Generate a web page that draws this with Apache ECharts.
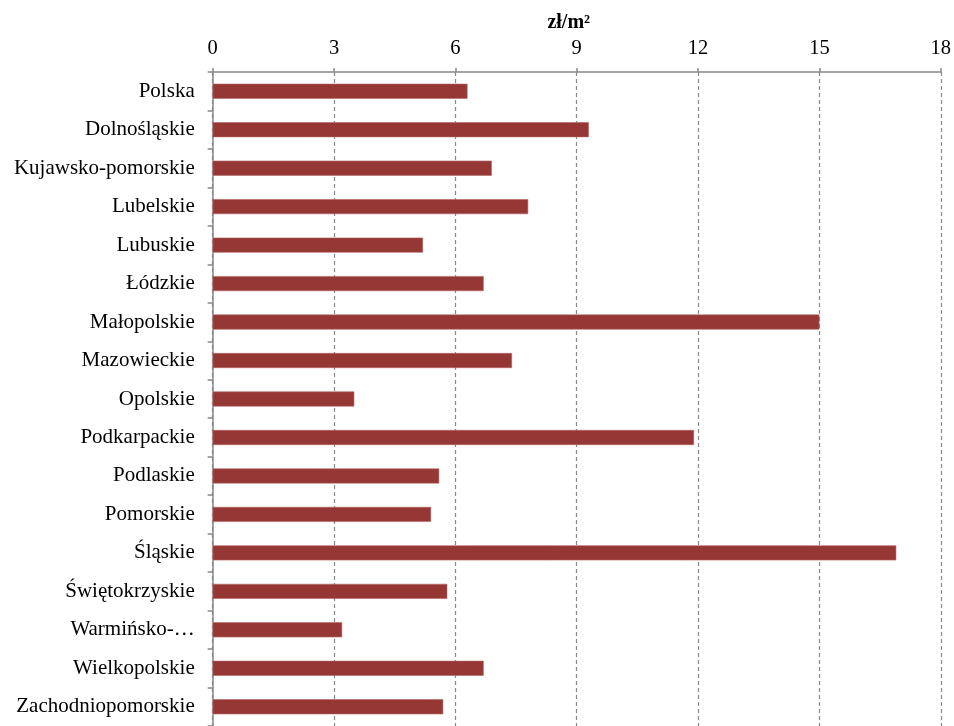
<!DOCTYPE html>
<html>
<head>
<meta charset="utf-8">
<script src="https://cdn.jsdelivr.net/npm/echarts@6/dist/echarts.min.js"></script>
<style>html,body{margin:0;padding:0;background:#fff}#c{width:954px;height:726px}</style>
</head>
<body>
<div id="c"></div>
<script>
const categories = ["Polska","Dolnośląskie","Kujawsko-pomorskie","Lubelskie","Lubuskie","Łódzkie","Małopolskie","Mazowieckie","Opolskie","Podkarpackie","Podlaskie","Pomorskie","Śląskie","Świętokrzyskie","Warmińsko-…","Wielkopolskie","Zachodniopomorskie"];
const values = [6.3,9.3,6.9,7.8,5.2,6.7,15.0,7.4,3.5,11.9,5.6,5.4,16.9,5.8,3.2,6.7,5.7];
const axisName = "zł/m²";
const xMin = 0, xMax = 18, xStep = 3;

const chart = echarts.init(document.getElementById('c'), null, {renderer:'canvas'});
chart.setOption({
  animation:false,
  backgroundColor:'#fff',
  grid:{left:212.7, right:12.3, top:72, bottom:-4.75, containLabel:false},
  xAxis:{
    type:'value', position:'top', min:xMin, max:xMax, interval:xStep,
    name:axisName, nameLocation:'middle', nameGap:35,
    nameTextStyle:{fontFamily:'Liberation Serif', fontWeight:'bold', fontSize:20, color:'#000', padding:[0,16,0,0]},
    axisLine:{show:true, lineStyle:{color:'#888', width:1.5}},
    axisTick:{show:true, inside:false, length:4, lineStyle:{color:'#888', width:1.5}},
    axisLabel:{fontFamily:'Liberation Serif', fontSize:20.5, color:'#000', margin:13},
    splitLine:{show:true, lineStyle:{color:'#888', type:[4,3], width:1.2}}
  },
  yAxis:{
    type:'category', data:categories, inverse:true,
    axisLine:{show:true, lineStyle:{color:'#888', width:1.5}},
    axisTick:{show:true, length:5, lineStyle:{color:'#888', width:1.5}},
    axisLabel:{fontFamily:'Liberation Serif', fontSize:21, color:'#000', margin:18},
    splitLine:{show:false}
  },
  series:[{
    type:'bar', data:values, barWidth:15,
    itemStyle:{color:'#953735', borderColor:'#b36563', borderWidth:0.6}
  }]
});
</script>
</body>
</html>
